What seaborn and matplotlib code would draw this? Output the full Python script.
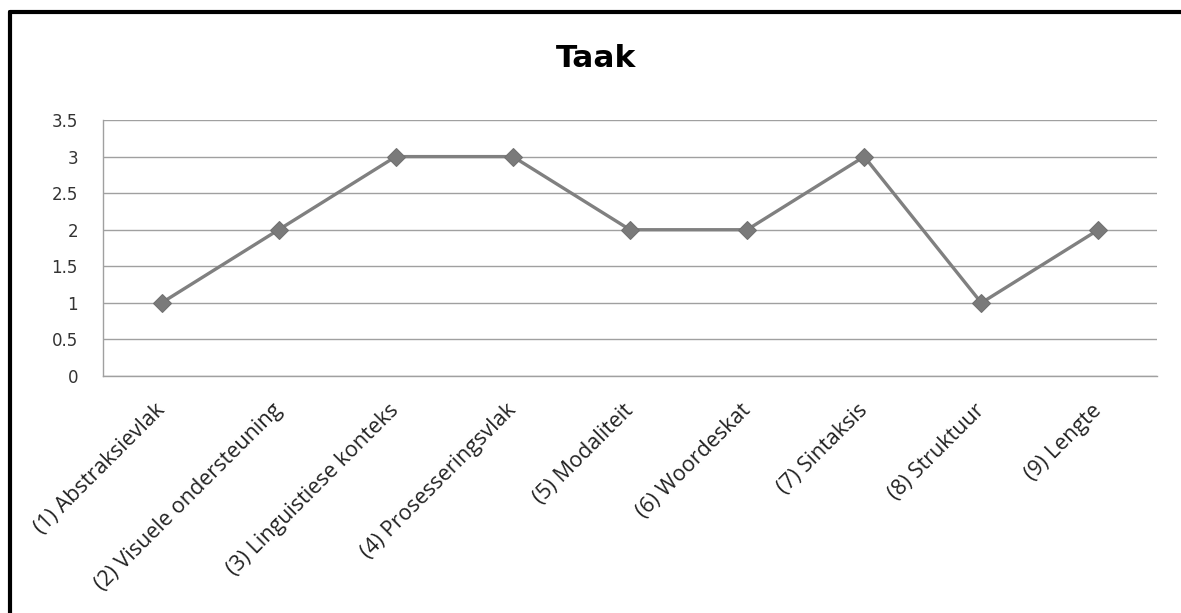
import numpy as np
import pandas as pd
import matplotlib.pyplot as plt
import matplotlib.transforms as mtransforms
from matplotlib.lines import Line2D
import seaborn as sns

# data
categories = ["(1) Abstraksievlak", "(2) Visuele ondersteuning", "(3) Linguistiese konteks",
              "(4) Prosesseringsvlak", "(5) Modaliteit", "(6) Woordeskat",
              "(7) Sintaksis", "(8) Struktuur", "(9) Lengte"]
scores = [1, 2, 3, 3, 2, 2, 3, 1, 2]
y_ticks = [0, 0.5, 1, 1.5, 2, 2.5, 3, 3.5]
y_tick_labels = ["0", "0.5", "1", "1.5", "2", "2.5", "3", "3.5"]

df = pd.DataFrame({"pos": np.arange(len(categories)), "score": scores})

sns.set_style("white")
plt.rcParams["font.family"] = ["Open Sans", "DejaVu Sans"]

fig = plt.figure(figsize=(11.81, 6.13), dpi=100)
ax = fig.add_axes([0.0872, 0.3866, 0.8925, 0.4176])

sns.lineplot(data=df, x="pos", y="score", ax=ax, color="#808080", linewidth=2.4,
             marker="D", markersize=9, markeredgecolor="#707070", markerfacecolor="#7a7a7a")

ax.set_xlim(-0.5, len(categories) - 0.5)
ax.set_ylim(0, 3.5)
ax.set_yticks(y_ticks)
ax.set_yticklabels(y_tick_labels, fontsize=12, family="DejaVu Sans", color="#333333")
ax.set_xticks(df["pos"])
ax.set_xticklabels(categories, rotation=45, ha="right", rotation_mode="anchor",
                   fontsize=15.5, color="#222222")
ax.tick_params(axis="x", pad=15, length=0)
ax.tick_params(axis="y", pad=18, length=0)

# nudge the rotated labels down-left a little
shift = mtransforms.ScaledTranslation(-0.07, -0.03, fig.dpi_scale_trans)
for lab in ax.get_xticklabels():
    lab.set_transform(lab.get_transform() + shift)

ax.yaxis.grid(True, color="#a0a0a0", linewidth=1)
ax.set_axisbelow(True)
ax.set_xlabel("")
ax.set_ylabel("")

for side in ["top", "right"]:
    ax.spines[side].set_visible(False)
for side in ["left", "bottom"]:
    ax.spines[side].set_color("#a0a0a0")
    ax.spines[side].set_linewidth(1)

fig.text(0.505, 0.8907, "Taak", ha="center", va="baseline", fontsize=22.5, fontweight="bold",
         family="DejaVu Sans", color="black")

# black frame on top and left
fig.add_artist(Line2D([0.0085, 1.0], [0.980, 0.980], color="black", linewidth=3,
                      transform=fig.transFigure))
fig.add_artist(Line2D([0.0085, 0.0085], [0.0, 0.980], color="black", linewidth=3,
                      transform=fig.transFigure))

fig.savefig("out.png", dpi=100)
